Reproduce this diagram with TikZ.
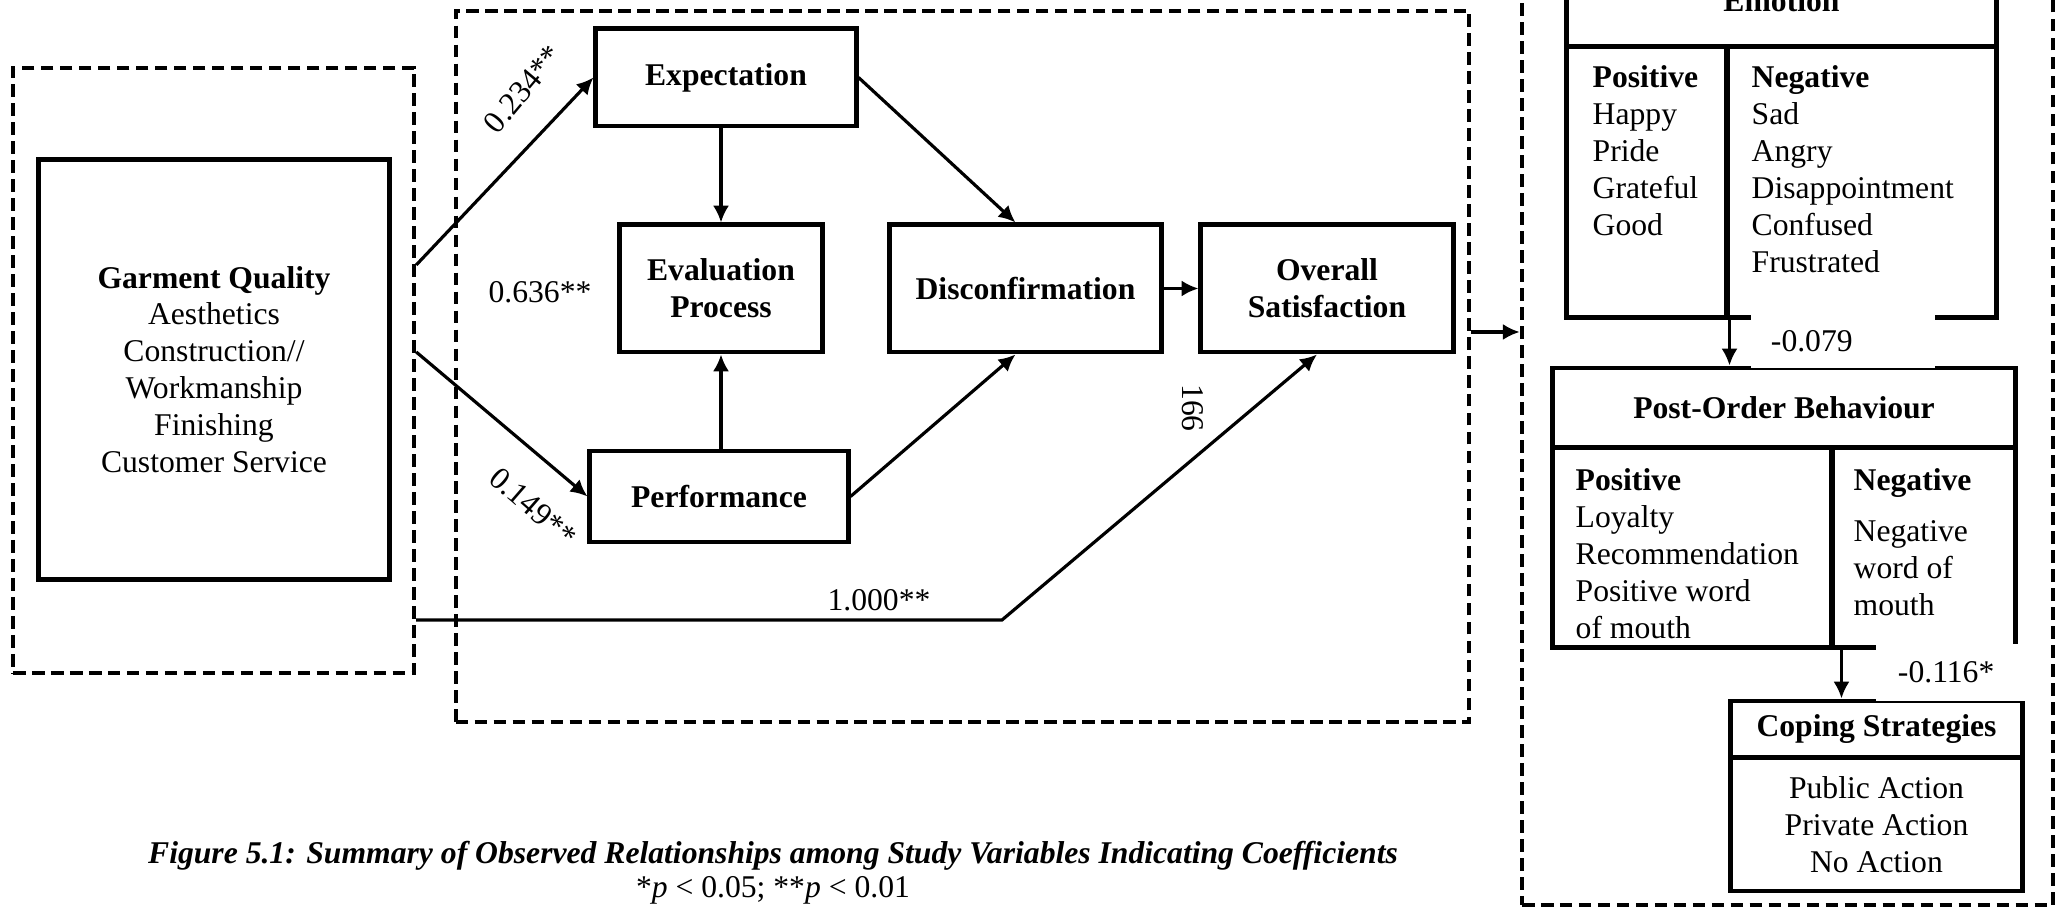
\documentclass[tikz,border=0pt]{standalone}
\usepackage{fontspec}
\setmainfont{Liberation Serif}
\usetikzlibrary{arrows.meta}

\tikzset{
  box/.style={draw, line width=1.4pt, font=\bfseries, align=center, inner sep=2pt},
  dashbox/.style={draw, line width=1.2pt, dash pattern=on 3.6pt off 1.8pt, inner sep=0pt},
  cell/.style={draw, line width=1.4pt, inner sep=0pt},
  items/.style={inner sep=0pt, anchor=north west, align=left},
  lnk/.style={->, line width=0.9pt},
  coef/.style={inner sep=1pt},
  coefbox/.style={fill=white, inner ysep=0pt, align=left},
}

\begin{document}
\fontsize{9}{10.5}\selectfont
\begin{tikzpicture}[>={Latex[length=4.8pt,width=4.6pt]}, x=0.01cm, y=-0.01cm]
  \useasboundingbox (0,0) rectangle (2062,907);

  % --- dashed groups ---
  \node[dashbox, minimum width=4.01cm, minimum height=6.05cm] (quality) at (213.5,370.5) {};
  \node[dashbox, minimum width=10.13cm, minimum height=7.11cm] (process) at (962.5,366.5) {};
  \node[dashbox, minimum width=5.31cm, minimum height=9.35cm] (response) at (1787.5,437.5) {};

  % garment quality
  \node[box, font=\mdseries, minimum width=3.50cm, minimum height=4.19cm] (garment) at (214,369.5)
    {\textbf{Garment Quality}\\Aesthetics\\Construction//\\Workmanship\\Finishing\\Customer Service};

  % --- satisfaction process ---
  \node[box, minimum width=2.60cm, minimum height=0.97cm] (expect) at (726,77.5) {Expectation};
  \node[box, minimum width=2.03cm, minimum height=1.27cm] (evalp) at (721,288.5) {Evaluation\\Process};
  \node[box, minimum width=2.71cm, minimum height=1.27cm] (disconf) at (1025.5,288.5) {Disconfirmation};
  \node[box, minimum width=2.52cm, minimum height=1.27cm] (satisf) at (1327,288.5) {Overall\\Satisfaction};
  \node[box, minimum width=2.58cm, minimum height=0.91cm] (perform) at (719,496.5) {Performance};

  % --- emotion ---
  \node[cell, font=\bfseries, minimum width=4.29cm, minimum height=0.92cm] (emohead) at (1781.5,1) {Emotion};
  \node[cell, minimum width=1.60cm, minimum height=2.70cm] (emopos) at (1647,182) {};
  \node[cell, minimum width=2.69cm, minimum height=2.70cm] (emoneg) at (1861.5,182) {};
  \node[items] (emopostxt) at (1592,65) {\textbf{Positive}\\Happy\\Pride\\Grateful\\Good};
  \node[items] (emonegtxt) at (1751,65) {\textbf{Negative}\\Sad\\Angry\\Disappointment\\Confused\\Frustrated};

  % --- post-order behaviour ---
  \node[cell, font=\bfseries, minimum width=4.62cm, minimum height=0.79cm] (pobhead) at (1784,407.5) {Post-Order Behaviour};
  \node[cell, minimum width=2.79cm, minimum height=2.00cm] (pobpos) at (1692.5,547.5) {};
  \node[cell, minimum width=1.83cm, minimum height=2.00cm] (pobneg) at (1923.5,547.5) {};
  \node[items] (pobpostxt) at (1575,468) {\textbf{Positive}\\Loyalty\\Recommendation\\Positive word\\of mouth};
  \node[items] (pobnegtxt) at (1853,468) {\textbf{Negative}\\[4pt]Negative\\word of\\mouth};

  % --- coping strategies ---
  \node[cell, font=\bfseries, minimum width=2.91cm, minimum height=0.57cm] (cophead) at (1876.5,729.5) {Coping Strategies};
  \node[cell, align=center, minimum width=2.91cm, minimum height=1.33cm] (copbody) at (1876.5,824.5)
    {Public Action\\Private Action\\No Action};

  % --- paths ---
  \coordinate (bend) at (1002,620);
  \coordinate (copin) at ([xshift=0.12cm]pobneg.south west);
  \draw[lnk] (quality.east |- 0,265) -- (expect.west);
  \draw[lnk] (quality.east |- 0,352) -- (perform.west);
  \draw[lnk] (quality.east |- bend) -- (bend) -- ([xshift=-0.1cm]satisf.south);
  \draw[lnk] (expect.south -| evalp.north) -- (evalp.north);
  \draw[lnk] (perform.north -| evalp.south) -- (evalp.south);
  \draw[lnk] (expect.east) -- ([xshift=-0.1cm]disconf.north);
  \draw[lnk] (perform.east) -- ([xshift=-0.1cm]disconf.south);
  \draw[lnk] (disconf) -- (satisf);
  \draw[lnk] (process.east |- 0,332) -- (response.west |- 0,332);
  \draw[lnk] (emopos.south east) -- (emopos.south east |- pobhead.north);
  \draw[lnk] (copin) -- (copin |- cophead.north);

  % coefficients
  \node[coef, rotate=50] (c234) at (523,89) {0.234**};
  \node[coef] (c636) at (540,292) {0.636**};
  \node[coef, fill=white, rotate=-41] (c149) at (533,507) {0.149**};
  \node[coef] (c1000) at (879,600) {1.000**};
  \node[coef, rotate=-90] (c166) at (1193,408) {166};
  \node[coefbox, text width=1.44cm, inner xsep=0.2cm, minimum height=0.54cm] (c079) at (1843,341) {-0.079};
  \node[coefbox, text width=1.10cm, inner xsep=0.22cm, minimum height=0.57cm] (c116) at (1953,672.5) {-0.116*};

  % caption
  \node[font=\bfseries\itshape] (caption) at (773,856)
    {Figure 5.1: Summary of Observed Relationships among Study Variables Indicating Coefficients};
  \node (signif) at (773,890) {*\textit{p} < 0.05; **\textit{p} < 0.01};
\end{tikzpicture}
\end{document}
